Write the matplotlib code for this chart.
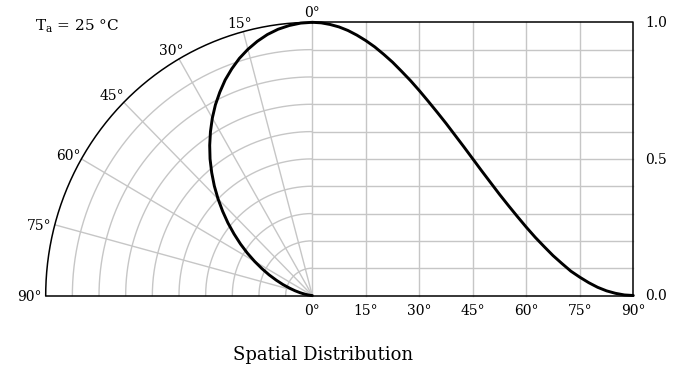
import numpy as np
import matplotlib
matplotlib.use("Agg")
import matplotlib.pyplot as plt

# relative intensity, every 2.5 degrees
angles = [0, 2.5, 5, 7.5, 10, 12.5, 15, 17.5, 20, 22.5, 25, 27.5, 30, 32.5,
          35, 37.5, 40, 42.5, 45, 47.5, 50, 52.5, 55, 57.5, 60, 62.5, 65,
          67.5, 70, 72.5, 75, 77.5, 80, 82.5, 85, 87.5, 90]
intensity = [1.000, 0.998, 0.992, 0.983, 0.970, 0.953, 0.933, 0.910, 0.883,
             0.854, 0.821, 0.787, 0.750, 0.711, 0.671, 0.630, 0.587, 0.544,
             0.500, 0.456, 0.413, 0.370, 0.329, 0.289, 0.250, 0.213, 0.179,
             0.146, 0.117, 0.089, 0.067, 0.047, 0.030, 0.017, 0.008, 0.002,
             0.000]
angle_ticks = [0, 15, 30, 45, 60, 75, 90]
rings = [0.1, 0.2, 0.3, 0.4, 0.5, 0.6, 0.7, 0.8, 0.9]
value_ticks = [0.0, 0.5, 1.0]
note = "T$_{\\mathrm{a}}$ = 25 °C"
caption = "Spatial Distribution"

plt.rcParams["font.family"] = ["DejaVu Serif"]
plt.rcParams["mathtext.fontset"] = "dejavuserif"

W, H = 688, 369
OX, OY = 312.3, 295.5      # origin in pixels
SX, SY = 266.6, 273.2      # pixels per unit
XR = 321.0 / SX            # width of the 0..90 deg panel in data units

GRAY = "#c6c6c6"
FONT = 10


def px(xp, yp):
    return (xp - OX) / SX, (OY - yp) / SY


def tx(deg):
    return np.asarray(deg, dtype=float) / 90.0 * XR


fig = plt.figure(figsize=(W / 100, H / 100), dpi=100)
ax = fig.add_axes([0, 0, 1, 1])
ax.set_xlim(-OX / SX, (W - OX) / SX)
ax.set_ylim((OY - H) / SY, OY / SY)
ax.axis("off")

t = np.radians(np.linspace(0, 90, 200))
# polar grid
for r in rings:
    ax.plot(-r * np.sin(t), r * np.cos(t), color=GRAY, lw=1.0)
    ax.plot([0, XR], [r, r], color=GRAY, lw=1.0)
for a in angle_ticks[:-1]:
    ar = np.radians(a)
    ax.plot([0, -np.sin(ar)], [0, np.cos(ar)], color=GRAY, lw=1.0)
    if a > 0:
        ax.plot([tx(a), tx(a)], [0, 1], color=GRAY, lw=1.0)

# black frame
ax.plot(-np.sin(t), np.cos(t), color="black", lw=1.1)
ax.plot([-1, XR], [0, 0], color="black", lw=1.1)
ax.plot([0, XR, XR], [1, 1, 0], color="black", lw=1.1)

# curve in both views
th = np.radians(angles)
I = np.array(intensity)
ax.plot(-I * np.sin(th), I * np.cos(th), color="black", lw=2.1,
        solid_joinstyle="round", solid_capstyle="round")
ax.plot(tx(angles), I, color="black", lw=2.1,
        solid_joinstyle="round", solid_capstyle="round")

# x tick labels on the right panel
for a in angle_ticks:
    ax.text(tx(a), px(0, 315)[1], f"{a}°", ha="center", va="baseline",
            fontsize=FONT)

# value labels
for v in value_ticks:
    ax.text(px(645, 0)[0], v - 5 / SY, f"{v:.1f}", ha="left",
            va="baseline", fontsize=FONT)

# polar angle labels: (ha, x px, baseline px)
polar_pos = {0: ("center", 312, 17), 15: ("center", 240, 28),
             30: ("right", 183, 55), 45: ("right", 124, 100),
             60: ("right", 81, 160), 75: ("right", 52, 230),
             90: ("right", 42, 301)}
for a in angle_ticks:
    ha, xp, yp = polar_pos[a]
    x, y = px(xp, yp)
    ax.text(x, y, f"{a}°", ha=ha, va="baseline", fontsize=FONT)

x, y = px(35, 31)
ax.text(x, y, note, ha="left", va="baseline", fontsize=11)
x, y = px(323.5, 360)
ax.text(x, y, caption, ha="center", va="baseline", fontsize=13)

fig.savefig("out.png", dpi=100)
